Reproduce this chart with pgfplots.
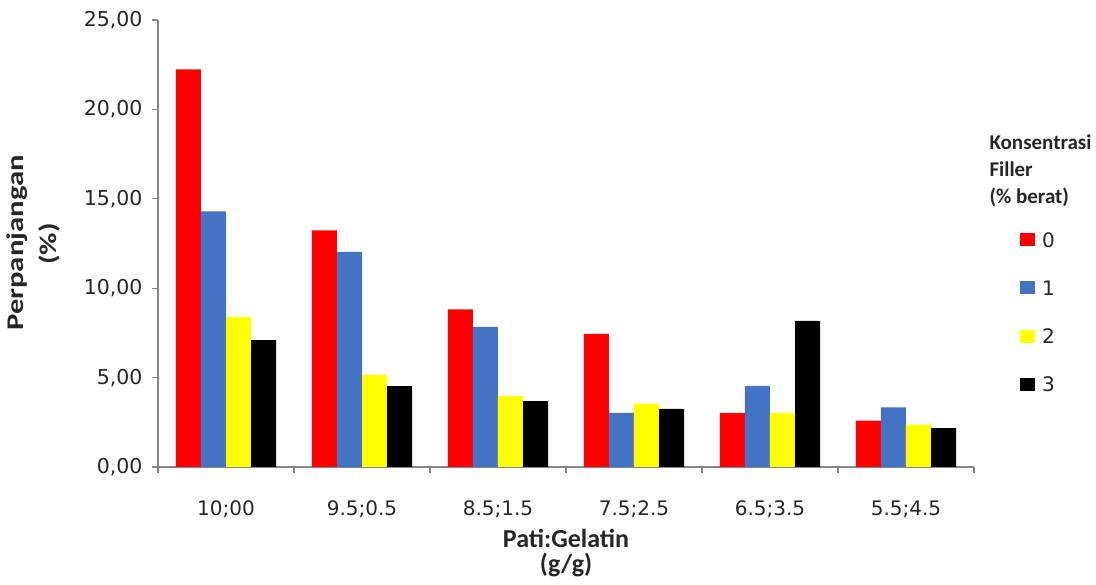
\documentclass[border=0pt]{standalone}
\usepackage{pgfplots}
\pgfplotsset{compat=1.18}
\usepackage{fontspec}
\setmainfont{DejaVu Sans}
\newfontfamily\calfont{Carlito}
\definecolor{axisgray}{HTML}{868686}
\definecolor{sblue}{HTML}{4472C4}
\definecolor{syellow}{HTML}{FFFF00}
\definecolor{sred}{HTML}{FF0000}
\pgfplotsset{sqlegend/.style={legend image code/.code={\fill[##1] (0pt,0.8pt) rectangle (15pt,13.8pt);}}}
\begin{document}
\begin{tikzpicture}[x=1pt,y=1pt]
\path[use as bounding box] (0,0) rectangle (1096,585);
\begin{axis}[
  at={(158pt,118pt)}, anchor=south west,
  width=816pt, height=447pt, scale only axis,
  ymin=0, ymax=25, ytick={0,5,...,25},
  xmin=-0.5, xmax=5.5,
  xtick={-0.5,0.5,...,5.5},
  x tick label as interval,
  xticklabels={10;00,9.5;0.5,8.5;1.5,7.5;2.5,6.5;3.5,5.5;4.5},
  axis x line*=bottom, axis y line*=left,
  axis line style={draw=axisgray, line width=1.3pt},
  tick style={draw=axisgray, line width=1.3pt},
  tick align=outside,
  major tick length=6pt,
  ybar=0pt, bar width=0.184,
  yticklabel style={font=\fontsize{20.5}{24}\selectfont, text=black!85, xshift=-6pt,
    /pgf/number format/.cd, fixed, fixed zerofill, precision=2, use comma, assume math mode=true},
  xticklabel style={font=\fontsize{20}{24}\selectfont, text=black!85, yshift=-24pt},
  legend style={at={(1.0527,0.530)}, anchor=north west, draw=none, fill=none,
    row sep=32pt, column sep=7pt, font=\fontsize{20}{24}\selectfont,
    nodes={inner sep=0pt, anchor=base west, text=black!85}},
  legend cell align=left,
]
\addplot[fill=sred, draw=none, sqlegend] coordinates {(0,22.24) (1,13.23) (2,8.81) (3,7.44) (4,3.02) (5,2.60)};
\addplot[fill=sblue, draw=none, sqlegend] coordinates {(0,14.29) (1,12.03) (2,7.83) (3,3.02) (4,4.53) (5,3.34)};
\addplot[fill=syellow, draw=none, sqlegend] coordinates {(0,8.39) (1,5.15) (2,3.97) (3,3.55) (4,3.02) (5,2.37)};
\addplot[fill=black, draw=none, sqlegend] coordinates {(0,7.09) (1,4.52) (2,3.68) (3,3.25) (4,8.17) (5,2.17)};
\legend{0,1,2,3}
\end{axis}
\node[anchor=base, rotate=90, inner sep=0pt, font=\calfont\bfseries\fontsize{26}{28}\selectfont, text=black!85] at (23.5,342) {\scalebox{1.18}[0.92]{Perpanjangan}};
\node[anchor=base, rotate=90, inner sep=0pt, font=\calfont\bfseries\fontsize{26}{28}\selectfont, text=black!85] at (57,341) {\scalebox{1.18}[0.92]{(\%)}};
\node[anchor=base, font=\calfont\bfseries\fontsize{26}{28}\selectfont, text=black!85] at (566,37) {Pati:Gelatin};
\node[anchor=base, font=\calfont\bfseries\fontsize{26}{28}\selectfont, text=black!85] at (566,12) {(g/g)};
\node[anchor=base west, font=\calfont\bfseries\fontsize{21}{27}\selectfont, text=black!85] at (986,435) {Konsentrasi};
\node[anchor=base west, font=\calfont\bfseries\fontsize{21}{27}\selectfont, text=black!85] at (986,408) {Filler};
\node[anchor=base west, font=\calfont\bfseries\fontsize{21}{27}\selectfont, text=black!85] at (986,381) {(\% berat)};
\end{tikzpicture}
\end{document}
